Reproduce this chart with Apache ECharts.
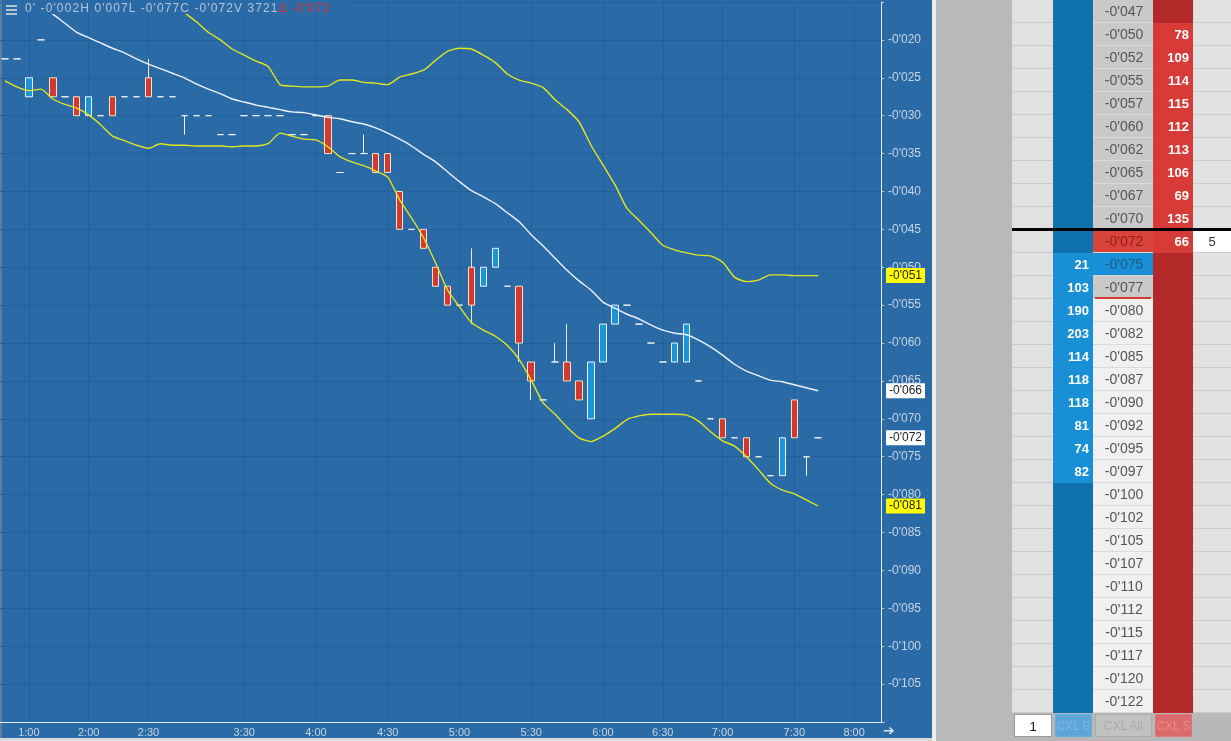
<!DOCTYPE html>
<html>
<head>
<meta charset="utf-8">
<title>Candles + DOM</title>
<script src="https://cdn.jsdelivr.net/npm/echarts@6/dist/echarts.min.js"></script>
<style>
  html, body { margin: 0; padding: 0; width: 1231px; height: 741px; overflow: hidden; background: #b9b9b9; font-family: "Liberation Sans", Arial, sans-serif; }
  .abs { position: absolute; }
  #panel { left: 0; top: 0; width: 932px; height: 741px; background: #2a6aa6; }
  #edge { left: 0; top: 0; width: 2px; height: 741px; background: #5f7c98; }
  #sep { left: 932px; top: 0; width: 4px; height: 741px; background: #eeeeee; }
  #scroll { left: 0; top: 738px; width: 932px; height: 3px; background: #d6dade; }
  #chart { left: 0; top: 0; width: 1231px; height: 741px; }
  #header { left: 2px; top: 0; width: 345px; height: 14px; background: #2a6aa6; color: #b4c4d8; font-size: 12px; line-height: 16px; letter-spacing: 1.1px; white-space: pre; overflow: visible; }
  #header .txt { position: absolute; left: 23px; top: 0; }
  #header .delta { color: #d8352f; }
  .bar { position: absolute; left: 4px; width: 11px; height: 2px; background: #b4c4d8; }
  #arrow { left: 883px; top: 722px; color: #d8e2ee; font: 14px "DejaVu Sans"; }
  #toolbar { left: 1012px; top: 713px; width: 219px; height: 28px; background: #b8b8b8; }
  .btn { position: absolute; top: 1px; height: 23px; line-height: 23px; text-align: center; font-size: 12px; box-sizing: border-box; white-space: nowrap; overflow: hidden; }
</style>
</head>
<body>
<div id="panel" class="abs"></div>
<div id="edge" class="abs"></div>
<div id="sep" class="abs"></div>
<div id="scroll" class="abs"></div>
<div id="chart" class="abs"></div>
<div id="header" class="abs">
  <div class="bar" style="top:5px"></div>
  <div class="bar" style="top:9px"></div>
  <div class="bar" style="top:13px"></div>
  <span class="txt">0' -0'002H 0'007L -0'077C -0'072V 3721<span class="delta">Δ -0'072</span></span>
</div>
<div id="arrow" class="abs">➔</div>
<div id="toolbar" class="abs">
  <div class="btn" style="left:2px;width:38px;background:#ffffff;border:1px solid #9a9a9a;color:#111;font-size:13px;">1</div>
  <div class="btn" style="left:43px;width:37px;background:#5ca6d8;color:#7db6de;border:1px solid #6aaedb;">CXL B</div>
  <div class="btn" style="left:83px;width:57px;background:#c2c2c2;color:#a9a9a9;border:1px solid #ababab;">CXL All</div>
  <div class="btn" style="left:143px;width:37px;background:#dc6a6a;color:#e58c8c;border:1px solid #d87a7a;">CXL S</div>
</div>
<script>
// ---- candles (price in thousandths, -22.5 == -0'022) ----
const opens = [
  -22.5, -22.5, -27.5, -20, -25, -27.5, -27.5, -30, -30, -27.5,
  -27.5, -27.5, -25, -27.5, -27.5, -30, -30, -30, -32.5, -32.5,
  -30, -30, -30, -30, -32.5, -32.5, -30, -30, -37.5, -35,
  -35, -35, -35, -40, -45, -45, -50, -52.5, -55, -50,
  -52.5, -50, -52.5, -52.5, -62.5, -67.5, -62.5, -62.5, -65, -70,
  -62.5, -57.5, -55, -57.5, -60, -62.5, -62.5, -62.5, -65, -70,
  -70, -72.5, -72.5, -75, -77.5, -77.5, -67.5, -75, -72.5
];
const closes = [
  -22.5, -22.5, -25, -20, -27.5, -27.5, -30, -27.5, -30, -30,
  -27.5, -27.5, -27.5, -27.5, -27.5, -30, -30, -30, -32.5, -32.5,
  -30, -30, -30, -30, -32.5, -32.5, -30, -35, -37.5, -35,
  -35, -37.5, -37.5, -45, -45, -47.5, -52.5, -55, -55, -55,
  -50, -47.5, -52.5, -60, -65, -67.5, -62.5, -65, -67.5, -62.5,
  -57.5, -55, -55, -57.5, -60, -62.5, -60, -57.5, -65, -70,
  -72.5, -72.5, -75, -75, -77.5, -72.5, -72.5, -75, -72.5
];
const lows = [
  -22.5, -22.5, -27.5, -20, -27.5, -27.5, -30, -30, -30, -30,
  -27.5, -27.5, -27.5, -27.5, -27.5, -32.5, -30, -30, -32.5, -32.5,
  -30, -30, -30, -30, -32.5, -32.5, -30, -35, -37.5, -35,
  -35, -37.5, -37.5, -45, -45, -47.5, -52.5, -55, -55, -57.5,
  -52.5, -50, -52.5, -62.5, -67.5, -67.5, -62.5, -65, -67.5, -70,
  -62.5, -57.5, -55, -57.5, -60, -62.5, -62.5, -62.5, -65, -70,
  -72.5, -72.5, -75, -75, -77.5, -77.5, -72.5, -77.5, -72.5
];
const highs = [
  -22.5, -22.5, -25, -20, -25, -27.5, -27.5, -27.5, -30, -27.5,
  -27.5, -27.5, -22.5, -27.5, -27.5, -30, -30, -30, -32.5, -32.5,
  -30, -30, -30, -30, -32.5, -32.5, -30, -30, -37.5, -35,
  -32.5, -35, -35, -40, -45, -45, -50, -52.5, -55, -47.5,
  -50, -47.5, -52.5, -52.5, -62.5, -67.5, -60, -57.5, -65, -62.5,
  -57.5, -55, -55, -57.5, -60, -62.5, -60, -57.5, -65, -70,
  -70, -72.5, -72.5, -75, -77.5, -72.5, -67.5, -75, -72.5
];

// ---- bollinger bands ----
const upperBand = [
  null, null, null, null, null, null, null, null, null, null,
  null, null, -13.0, -14.1, -15.2, -16.4, -17.6, -19.0, -20.0, -21.2,
  -22.0, -22.8, -23.5, -25.9, -26.1, -26.2, -26.2, -26.1, -25.3, -25.3,
  -25.6, -25.7, -25.9, -24.9, -24.5, -24.0, -22.7, -21.5, -21.1, -21.2,
  -22.0, -23.0, -24.5, -25.3, -25.7, -26.3, -27.9, -29.2, -30.8, -33.9,
  -36.5, -39.1, -42.2, -43.8, -45.4, -47.1, -47.7, -48.1, -48.4, -48.5,
  -49.3, -51.3, -51.9, -51.7, -51.0, -51.0, -51.1, -51.1, -51.1
];
const middleBand = [
  -12.0, -13.2, -14.3, -15.5, -16.6, -17.8, -19.0, -19.7, -20.4, -21.1,
  -21.7, -22.5, -23.2, -23.8, -24.4, -25.0, -25.8, -26.5, -27.1, -27.8,
  -28.2, -28.6, -28.9, -29.2, -29.5, -29.6, -29.9, -30.2, -30.4, -30.8,
  -31.1, -31.6, -32.3, -33.1, -34.0, -35.1, -36.1, -37.4, -38.7, -39.9,
  -40.7, -41.6, -42.8, -44.0, -45.7, -47.2, -48.8, -50.4, -51.8, -53.0,
  -54.6, -55.4, -56.2, -56.8, -57.6, -58.3, -58.7, -58.9, -59.6, -60.5,
  -61.6, -62.8, -63.7, -64.3, -64.9, -65.1, -65.5, -65.9, -66.3
];
const lowerBand = [
  -25.4, -26.2, -26.7, -26.5, -27.8, -28.5, -29.0, -29.9, -31.2, -32.7,
  -33.3, -33.9, -34.3, -33.7, -33.9, -33.9, -34.0, -34.0, -34.0, -34.1,
  -34.0, -34.0, -33.7, -32.3, -32.7, -33.1, -33.2, -34.1, -35.4, -36.1,
  -36.6, -37.3, -38.1, -41.1, -43.5, -46.1, -49.4, -53.0, -55.2, -57.3,
  -58.3, -59.1, -60.3, -62.2, -64.9, -67.9, -69.4, -71.1, -72.5, -73.0,
  -72.3, -71.3, -70.1, -69.6, -69.4, -69.4, -69.4, -69.5, -70.3, -71.7,
  -72.9, -73.6, -75.0, -76.7, -78.5, -79.4, -79.9, -80.7, -81.5
];

// ---- time axis ----
const slotCount = 74;
const tickIndex = [2, 7, 12, 20, 26, 32, 38, 44, 50, 55, 60, 66, 71];
const tickLabels = ['1:00', '2:00', '2:30', '3:30', '4:00', '4:30', '5:00', '5:30', '6:00', '6:30', '7:00', '7:30', '8:00'];

// ---- depth ladder ----
const ladderPrices = [
  -47.5, -50, -52.5, -55, -57.5, -60, -62.5, -65, -67.5, -70,
  -72.5, -75, -77.5, -80, -82.5, -85, -87.5, -90, -92.5, -95,
  -97.5, -100, -102.5, -105, -107.5, -110, -112.5, -115, -117.5, -120, -122.5
];
const askPrices = [-50, -52.5, -55, -57.5, -60, -62.5, -65, -67.5, -70, -72.5];
const askSizes = [78, 109, 114, 115, 112, 113, 106, 69, 135, 66];
const bidPrices = [-75, -77.5, -80, -82.5, -85, -87.5, -90, -92.5, -95, -97.5];
const bidSizes = [21, 103, 190, 203, 114, 118, 118, 81, 74, 82];
const lastQty = 5;
const dayLow = -77.5;

const FONT = '"Liberation Sans", Arial, sans-serif';
const lastPrice = closes[closes.length - 1];

// -0'072 style price text
function fmt(v) {
  const a = Math.floor(Math.abs(v) + 1e-9);
  return (v < 0 ? '-' : '') + "0'" + String(a).padStart(3, '0');
}

const categories = [];
for (let i = 0; i < slotCount; i++) categories.push(String(i));
const isTick = (i) => tickIndex.indexOf(i) >= 0;

// ladder columns: empty | bids | price | asks | last qty  (px inside the ladder grid)
const colEdges = [0, 41, 81, 141, 181, 219];

function renderLadderRow(params, api) {
  const row = api.value(1);
  const price = ladderPrices[row];
  const top = api.coord([0, row])[1];
  const bottom = api.coord([0, row + 1])[1];
  const h = bottom - top;
  const mid = top + h / 2;
  const X = (c) => api.coord([colEdges[c], row])[0];
  const kids = [];

  function cell(c, fill) {
    kids.push({ type: 'rect', shape: { x: X(c), y: top, width: X(c + 1) - X(c), height: h }, style: { fill: fill } });
  }
  function rowLine(c, color) {
    kids.push({ type: 'line', shape: { x1: X(c), y1: bottom - 0.5, x2: X(c + 1), y2: bottom - 0.5 }, style: { stroke: color, lineWidth: 1 } });
  }
  function label(str, x, align, color, font) {
    kids.push({
      type: 'text',
      style: {
        text: str, x: x, y: mid + 0.5,
        align: align, verticalAlign: 'middle', textAlign: align, textVerticalAlign: 'middle',
        fill: color, textFill: color, font: font
      }
    });
  }

  const ai = askPrices.indexOf(price);
  const bi = bidPrices.indexOf(price);

  cell(0, '#e1e1e1');
  rowLine(0, '#cbcbcb');

  cell(1, bi >= 0 ? '#1990d6' : '#0f72ad');
  if (bi >= 0) label(String(bidSizes[bi]), X(2) - 4, 'right', '#ffffff', 'bold 13px ' + FONT);

  let pFill = price >= dayLow ? '#c9c9c9' : '#f0f0f0';
  let pText = '#555555';
  if (price === lastPrice) { pFill = '#d9433c'; pText = '#8e1d1a'; }
  else if (price === bidPrices[0]) { pFill = '#1990d6'; pText = '#1d5b86'; }
  cell(2, pFill);
  rowLine(2, '#dadada');
  label(fmt(price), (X(2) + X(3)) / 2 + 1, 'center', pText, '14px ' + FONT);

  cell(3, ai >= 0 ? '#d63b37' : '#b32828');
  if (ai >= 0) label(String(askSizes[ai]), X(4) - 4, 'right', '#ffffff', 'bold 13px ' + FONT);

  cell(4, price === lastPrice ? '#ffffff' : '#e1e1e1');
  rowLine(4, '#cbcbcb');
  if (price === lastPrice) label(String(lastQty), (X(4) + X(5)) / 2, 'center', '#333333', '13px ' + FONT);

  if (price === dayLow) {
    kids.push({ type: 'rect', shape: { x: X(2) + 2, y: bottom - 2, width: X(3) - X(2) - 4, height: 2 }, style: { fill: '#d33b33' } });
  }
  if (price === lastPrice) {
    kids.push({ type: 'rect', shape: { x: X(0), y: top - 2, width: X(5) - X(0), height: 3 }, style: { fill: '#000000' } });
  }
  return { type: 'group', children: kids };
}

// price tag at the right edge of the plot
function tagLine(value, bg) {
  return {
    silent: true,
    symbol: ['none', 'none'],
    animation: false,
    lineStyle: { color: 'rgba(0,0,0,0)', width: 1, type: 'solid' },
    label: {
      show: true, position: 'end', distance: 2,
      formatter: (p) => fmt(p.value),
      backgroundColor: bg, color: '#222222', opacity: 1,
      fontSize: 12, fontFamily: FONT, lineHeight: 13, padding: [1, 3, 1, 3]
    },
    emphasis: { disabled: true },
    data: [{ yAxis: value }]
  };
}

const chart = echarts.init(document.getElementById('chart'));
chart.setOption({
  animation: false,
  grid: [
    { left: -1, top: 2, width: 885, height: 720, outerBoundsMode: 'none' },
    { left: 1012, top: 0, width: 219, height: 713, outerBoundsMode: 'none' }
  ],
  xAxis: [
    {
      type: 'category', gridIndex: 0, data: categories, boundaryGap: true,
      axisLine: { lineStyle: { color: '#e6edf5', width: 1 } },
      axisTick: { show: false, alignWithLabel: true },
      axisLabel: {
        interval: (i) => isTick(i), color: '#c8d4e2', fontSize: 11, fontFamily: FONT, margin: 5,
        formatter: (v, i) => tickLabels[tickIndex.indexOf(i)] || ''
      },
      splitLine: { show: true, interval: (i) => isTick(i), alignWithLabel: true, lineStyle: { color: '#235f9a', width: 1 } }
    },
    { type: 'value', gridIndex: 1, min: 0, max: 219, show: false }
  ],
  yAxis: [
    {
      type: 'value', gridIndex: 0, position: 'right', offset: -3,
      min: -110, max: -15, interval: 5,
      axisLine: { show: true, lineStyle: { color: '#e6edf5', width: 1 } },
      axisTick: { show: true, length: 3, lineStyle: { color: '#c8d4e2' } },
      axisLabel: {
        color: '#c8d4e2', fontSize: 12, fontFamily: FONT, margin: 7,
        formatter: (v) => (v > -16 || v < -107 ? '' : fmt(v))
      },
      splitLine: { show: true, lineStyle: { color: '#235f9a', width: 1 } }
    },
    { type: 'value', gridIndex: 1, min: 0, max: 31, inverse: true, show: false }
  ],
  series: [
    {
      type: 'candlestick', xAxisIndex: 0, yAxisIndex: 0, z: 2,
      barWidth: 7,
      data: opens.map((o, i) => [o, closes[i], lows[i], highs[i]]),
      itemStyle: {
        color: '#1b94d8', color0: '#d23a31',
        borderColor: '#eaf6ff', borderColor0: '#f6e4c4', borderColorDoji: '#f2f2f2',
        borderWidth: 1
      },
      markLine: tagLine(lastPrice, '#ffffff')
    },
    {
      type: 'line', name: 'upper', xAxisIndex: 0, yAxisIndex: 0, z: 3,
      data: upperBand, symbol: 'none', smooth: 0.2,
      lineStyle: { color: '#e3e51f', width: 1.4 },
      markLine: tagLine(upperBand[upperBand.length - 1], '#ffff00')
    },
    {
      type: 'line', name: 'middle', xAxisIndex: 0, yAxisIndex: 0, z: 3,
      data: middleBand, symbol: 'none', smooth: 0.2,
      lineStyle: { color: '#eef2f8', width: 1.4 },
      markLine: tagLine(middleBand[middleBand.length - 1], '#ffffff')
    },
    {
      type: 'line', name: 'lower', xAxisIndex: 0, yAxisIndex: 0, z: 3,
      data: lowerBand, symbol: 'none', smooth: 0.2,
      lineStyle: { color: '#e3e51f', width: 1.4 },
      markLine: tagLine(lowerBand[lowerBand.length - 1], '#ffff00')
    },
    {
      type: 'custom', xAxisIndex: 1, yAxisIndex: 1, silent: true,
      data: ladderPrices.map((p, i) => [0, i]),
      encode: { x: 0, y: 1 },
      renderItem: renderLadderRow
    }
  ]
});
</script>
</body>
</html>
